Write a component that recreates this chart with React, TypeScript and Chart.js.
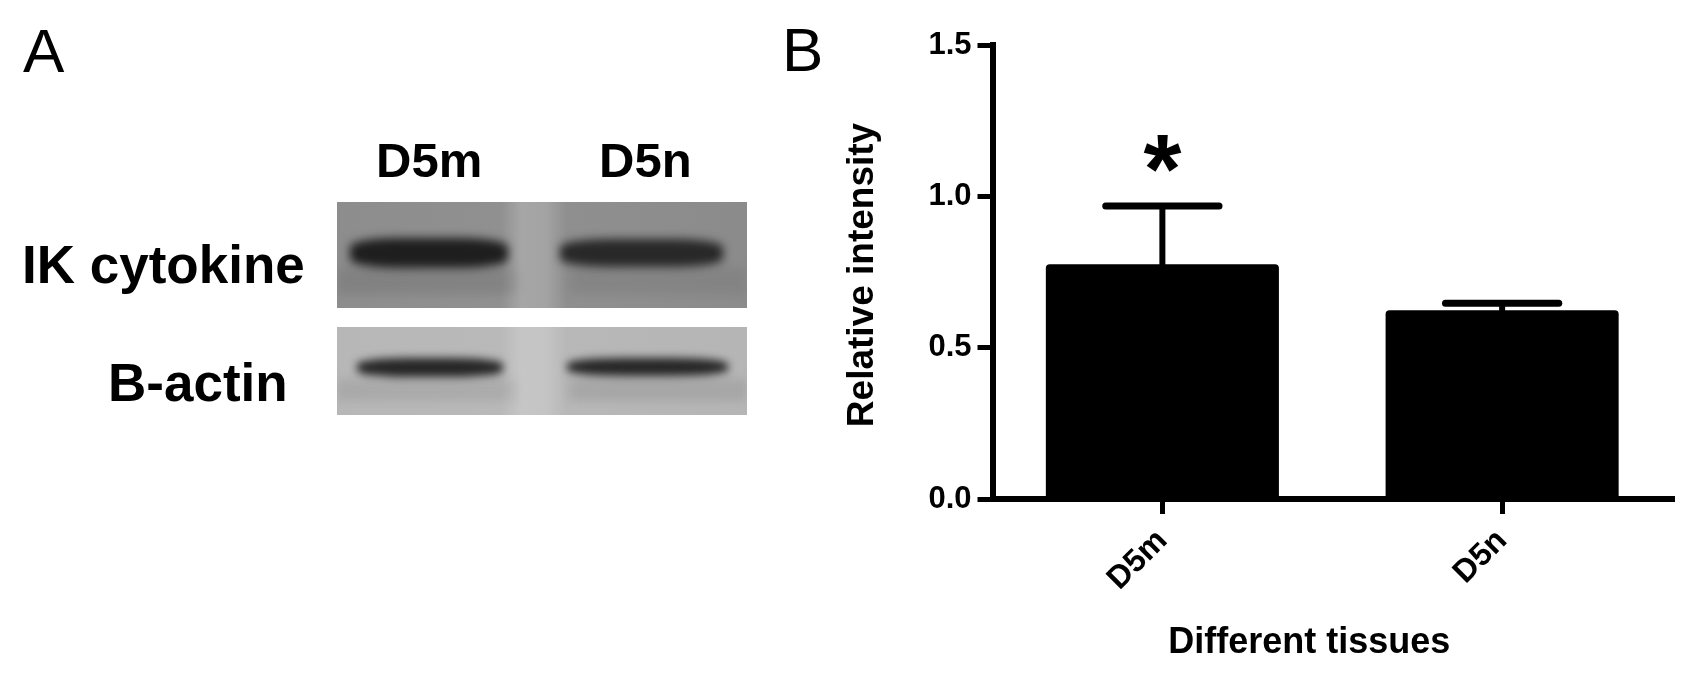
import React, { useEffect, useRef } from "react";
import { Chart, registerables } from "chart.js";

Chart.register(...registerables);

const FONT = "'Liberation Sans', Arial, Helvetica, sans-serif";

// ---- Panel B data ----
const categories: string[] = ["D5m", "D5n"];
const meanIntensity: number[] = [0.776, 0.624];
const errorUpper: number[] = [0.192, 0.023];
const significance: string[] = ["*", ""];
const yTickValues: number[] = [0, 0.5, 1.0, 1.5];
const xAxisTitle = "Different tissues";
const yAxisTitle = "Relative intensity";

// ---- Panel A labels ----
const blotLanes: string[] = ["D5m", "D5n"];
const blotRows: string[] = ["IK cytokine", "B-actin"];
const panelLetters: string[] = ["A", "B"];

const overlayPlugin = {
  id: "overlay",
  afterDatasetsDraw(chart: any) {
    const ctx = chart.ctx as CanvasRenderingContext2D;
    const yScale = chart.scales.y;
    const meta = chart.getDatasetMeta(0);
    ctx.save();
    ctx.strokeStyle = "#000";
    ctx.fillStyle = "#000";
    ctx.lineCap = "round";
    meta.data.forEach((el: any, i: number) => {
      const x = el.x;
      const top = el.y;
      const yErr = yScale.getPixelForValue(meanIntensity[i] + errorUpper[i]);
      const half = el.width * 0.243;
      ctx.lineWidth = 6;
      ctx.beginPath();
      ctx.moveTo(x, top);
      ctx.lineTo(x, yErr);
      ctx.stroke();
      ctx.lineWidth = 7;
      ctx.beginPath();
      ctx.moveTo(x - half, yErr);
      ctx.lineTo(x + half, yErr);
      ctx.stroke();
      const s = significance[i];
      if (s) {
        ctx.font = `bold 100px ${FONT}`;
        let m = ctx.measureText(s);
        const w0 = m.actualBoundingBoxLeft + m.actualBoundingBoxRight;
        const size = (100 * 38) / w0;
        ctx.font = `bold ${size}px ${FONT}`;
        ctx.textAlign = "left";
        ctx.textBaseline = "alphabetic";
        m = ctx.measureText(s);
        const inkW = m.actualBoundingBoxLeft + m.actualBoundingBoxRight;
        const inkH = m.actualBoundingBoxAscent + m.actualBoundingBoxDescent;
        const cy = yErr - 53;
        ctx.fillText(
          s,
          x - inkW / 2 + m.actualBoundingBoxLeft,
          cy + inkH / 2 - m.actualBoundingBoxDescent
        );
      }
    });
    const area = chart.chartArea;
    ctx.textAlign = "center";
    ctx.textBaseline = "middle";
    ctx.font = `bold 36px ${FONT}`;
    ctx.fillText(xAxisTitle, (area.left + area.right) / 2 - 23, 643);
    ctx.save();
    ctx.translate(103, 275);
    ctx.rotate(-Math.PI / 2);
    ctx.font = `bold 37px ${FONT}`;
    ctx.fillText(yAxisTitle, 0, 0);
    ctx.restore();
    ctx.restore();
  },
};

function BarChart() {
  const ref = useRef<HTMLCanvasElement>(null);
  useEffect(() => {
    const chart = new Chart(ref.current as HTMLCanvasElement, {
      type: "bar",
      data: {
        labels: categories,
        datasets: [
          {
            data: meanIntensity,
            backgroundColor: "#000",
            borderWidth: 0,
            borderRadius: 4,
            barPercentage: 0.686,
            categoryPercentage: 1,
          },
        ],
      },
      options: {
        responsive: false,
        animation: false,
        devicePixelRatio: 1,
        layout: { padding: { left: 0, top: 45, right: 29, bottom: 0 } },
        plugins: {
          legend: { display: false },
          tooltip: { enabled: false },
          title: { display: false },
        },
        scales: {
          x: {
            offset: true,
            ticks: {
              autoSkip: false,
              maxRotation: 45,
              minRotation: 45,
              padding: 8,
              color: "#000",
              font: { family: FONT, size: 32, weight: "bold" },
            },
            grid: {
              display: true,
              offset: false,
              drawOnChartArea: false,
              drawTicks: true,
              tickLength: 15,
              lineWidth: 5,
              color: "#000",
            },
            border: { display: true, width: 6, color: "#000" },
            afterFit: (s: any) => {
              s.height = 188;
            },
          },
          y: {
            min: 0,
            max: 1.5,
            ticks: {
              stepSize: 0.5,
              padding: 6,
              color: "#000",
              font: { family: FONT, size: 31, weight: "bold" },
              callback: (v: any) => Number(v).toFixed(1),
            },
            afterBuildTicks: (s: any) => {
              s.ticks = yTickValues.map((v) => ({ value: v }));
            },
            grid: {
              display: true,
              drawOnChartArea: false,
              drawTicks: true,
              tickLength: 15,
              lineWidth: 5,
              color: "#000",
            },
            border: { display: true, width: 6, color: "#000" },
            afterFit: (s: any) => {
              s.width = 232.5;
            },
          },
        },
      } as any,
      plugins: [overlayPlugin],
    });
    return () => chart.destroy();
  }, []);
  return (
    <canvas
      ref={ref}
      width={941}
      height={687}
      style={{ position: "absolute", left: 760, top: 0, width: 941, height: 687 }}
    />
  );
}

const textStyle = (
  left: number,
  top: number,
  size: number,
  weight: string
): React.CSSProperties => ({
  position: "absolute",
  left,
  top,
  fontFamily: FONT,
  fontSize: size,
  fontWeight: weight as any,
  lineHeight: 1,
  whiteSpace: "nowrap",
  color: "#000",
});

const abs = (
  left: number,
  top: number,
  width: number,
  height: number,
  extra: React.CSSProperties = {}
): React.CSSProperties => ({ position: "absolute", left, top, width, height, ...extra });

function Blot() {
  return (
    <>
      {/* IK cytokine blot */}
      <div
        style={abs(337, 202, 410, 106, {
          background:
            "linear-gradient(to right, #8d8d8d 0%, #909090 40%, #a6a6a6 45%, #a3a3a3 51%, #8f8f8f 56%, #8b8b8b 100%)",
          overflow: "hidden",
        })}
      >
        <div
          style={abs(0, 66, 410, 26, {
            background:
              "linear-gradient(to right, #7f7f7f 0%, #808080 40%, rgba(0,0,0,0) 45%, rgba(0,0,0,0) 55%, #838383 58%, #828282 100%)",
            filter: "blur(5px)",
            opacity: 0.8,
          })}
        />
        <div
          style={abs(13, 36, 158, 30, {
            background: "#1e1e1e",
            borderRadius: "30%",
            filter: "blur(5px)",
          })}
        />
        <div
          style={abs(223, 37, 163, 28, {
            background: "#282828",
            borderRadius: "30%",
            filter: "blur(5px)",
          })}
        />
      </div>
      {/* B-actin blot */}
      <div
        style={abs(337, 327, 410, 88, {
          background:
            "linear-gradient(to right, #b7b7b7 0%, #b9b9b9 40%, #c6c6c6 45%, #c4c4c4 51%, #b8b8b8 56%, #b5b5b5 100%)",
          overflow: "hidden",
        })}
      >
        <div
          style={abs(0, 52, 410, 22, {
            background:
              "linear-gradient(to right, #a6a6a6 0%, #a8a8a8 40%, rgba(0,0,0,0) 45%, rgba(0,0,0,0) 55%, #a3a3a3 58%, #a3a3a3 100%)",
            filter: "blur(5px)",
            opacity: 0.8,
          })}
        />
        <div
          style={abs(20, 31, 146, 19, {
            background: "#262626",
            borderRadius: "35%",
            filter: "blur(4px)",
          })}
        />
        <div
          style={abs(230, 31, 161, 18, {
            background: "#262626",
            borderRadius: "35%",
            filter: "blur(4px)",
          })}
        />
      </div>
    </>
  );
}

export default function App() {
  return (
    <div
      style={{
        position: "absolute",
        left: 0,
        top: 0,
        width: 1701,
        height: 687,
        background: "#fff",
        overflow: "hidden",
      }}
    >
      <div style={textStyle(23, 20, 62, "normal")}>{panelLetters[0]}</div>
      <div style={textStyle(782, 19, 62, "normal")}>{panelLetters[1]}</div>
      <div style={textStyle(376, 136, 49, "bold")}>{blotLanes[0]}</div>
      <div style={textStyle(599, 136, 49, "bold")}>{blotLanes[1]}</div>
      <div style={textStyle(22, 238, 53, "bold")}>{blotRows[0]}</div>
      <div style={textStyle(108, 356, 53, "bold")}>{blotRows[1]}</div>
      <Blot />
      <BarChart />
    </div>
  );
}
